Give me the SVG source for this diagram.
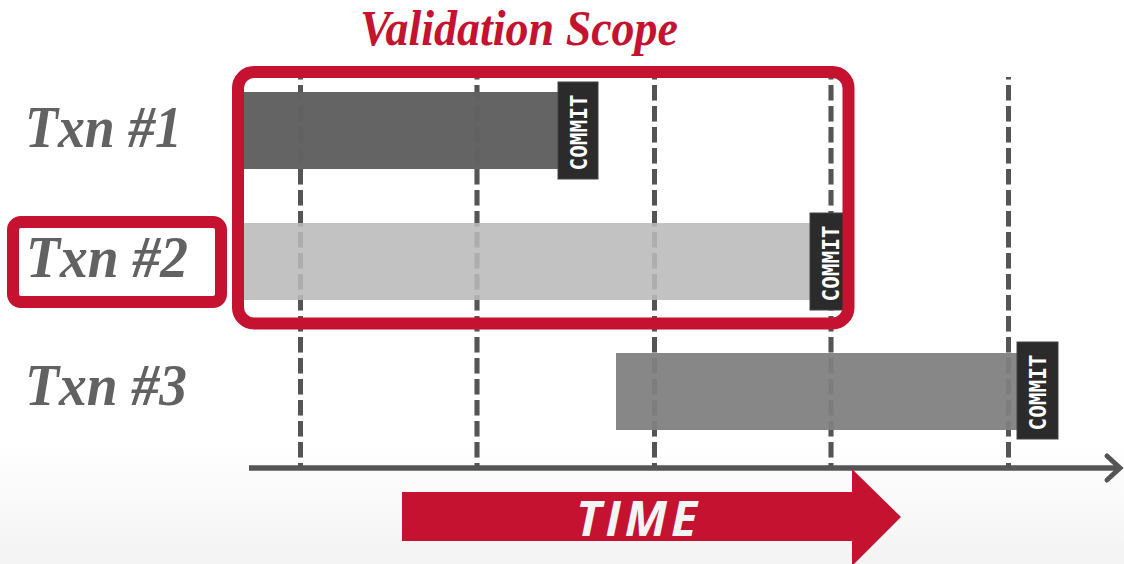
<svg xmlns="http://www.w3.org/2000/svg" width="1124" height="564" viewBox="0 0 1124 564">
  <defs>
    <linearGradient id="bg" x1="0" y1="0" x2="0" y2="564" gradientUnits="userSpaceOnUse">
      <stop offset="0" stop-color="#ffffff"/>
      <stop offset="0.78" stop-color="#ffffff"/>
      <stop offset="1" stop-color="#f3f3f3"/>
    </linearGradient>
    <g id="dashes">
      <line x1="300.5" y1="77" x2="300.5" y2="466"/>
      <line x1="477" y1="77" x2="477" y2="466"/>
      <line x1="654.5" y1="77" x2="654.5" y2="466"/>
      <line x1="831" y1="77" x2="831" y2="466"/>
      <line x1="1008.5" y1="77" x2="1008.5" y2="466"/>
    </g>
  </defs>
  <style>
    .dash { stroke: #555555; stroke-width: 5; stroke-dasharray: 15.5 5.5; stroke-dashoffset: 13; fill: none; }
    .commit { fill: #2b2b2b; stroke: #444; stroke-width: 1; }
    .ctext { font-family: "DejaVu Sans Mono", "Liberation Mono", monospace; font-weight: bold; font-size: 23.5px; fill: #ffffff; text-anchor: middle; }
    .label { font-family: "Liberation Serif", serif; font-weight: bold; font-style: italic; font-size: 59px; fill: #626262; }
    .red { fill: none; stroke: #c41230; stroke-width: 12; }
  </style>
  <rect x="0" y="0" width="1124" height="564" fill="url(#bg)"/>

  <g id="connectors">
    <use href="#dashes" class="dash"/>
    <line x1="249" y1="468" x2="1119" y2="468" stroke="#555555" stroke-width="5.5"/>
    <polyline points="1107,456 1120,468 1107,480" fill="none" stroke="#555555" stroke-width="5" stroke-linejoin="miter" stroke-linecap="round"/>
  </g>

  <g id="txn1">
    <rect x="243" y="92" width="317" height="77" fill="#646464"/>
    <text class="label" x="25" y="147" textLength="157" lengthAdjust="spacingAndGlyphs">Txn #1</text>
  </g>
  <g id="txn2">
    <rect x="243" y="223" width="569" height="77" fill="#c2c2c2"/>
    <text class="label" x="26" y="277" textLength="162" lengthAdjust="spacingAndGlyphs">Txn #2</text>
  </g>
  <g id="txn3">
    <rect x="616" y="353" width="404" height="77" fill="#878787"/>
    <text class="label" x="25" y="405" textLength="162" lengthAdjust="spacingAndGlyphs">Txn #3</text>
  </g>

  <use href="#dashes" class="dash" opacity="0.18"/>

  <g id="commit1">
    <rect class="commit" x="558" y="82" width="40" height="97"/>
    <text class="ctext" transform="translate(586.5,132.5) rotate(-90)" textLength="76" lengthAdjust="spacingAndGlyphs">COMMIT</text>
  </g>
  <g id="commit2">
    <rect class="commit" x="810" y="213" width="40" height="97"/>
    <text class="ctext" transform="translate(838.5,263.5) rotate(-90)" textLength="76" lengthAdjust="spacingAndGlyphs">COMMIT</text>
  </g>
  <g id="commit3">
    <rect class="commit" x="1017" y="342" width="41" height="97"/>
    <text class="ctext" transform="translate(1045.5,392.5) rotate(-90)" textLength="76" lengthAdjust="spacingAndGlyphs">COMMIT</text>
  </g>

  <g id="validation-scope">
    <rect class="red" x="238" y="72" width="610.5" height="251.5" rx="16" ry="16"/>
    <text x="360" y="45" font-family="Liberation Serif, serif" font-weight="bold" font-style="italic" font-size="50" fill="#c41230" textLength="318" lengthAdjust="spacingAndGlyphs">Validation Scope</text>
  </g>

  <g id="txn2-highlight">
    <rect class="red" x="13" y="222" width="208" height="80" rx="8" ry="8"/>
  </g>

  <g id="time-arrow">
    <polygon points="402,492 852,492 852,469 901,517 852,566 852,541 402,541" fill="#c41230"/>
    <text x="576" y="536" font-family="Open Sans, sans-serif" font-weight="bold" font-style="italic" font-size="48" letter-spacing="4" fill="#f4f4f4">TIME</text>
  </g>
</svg>
